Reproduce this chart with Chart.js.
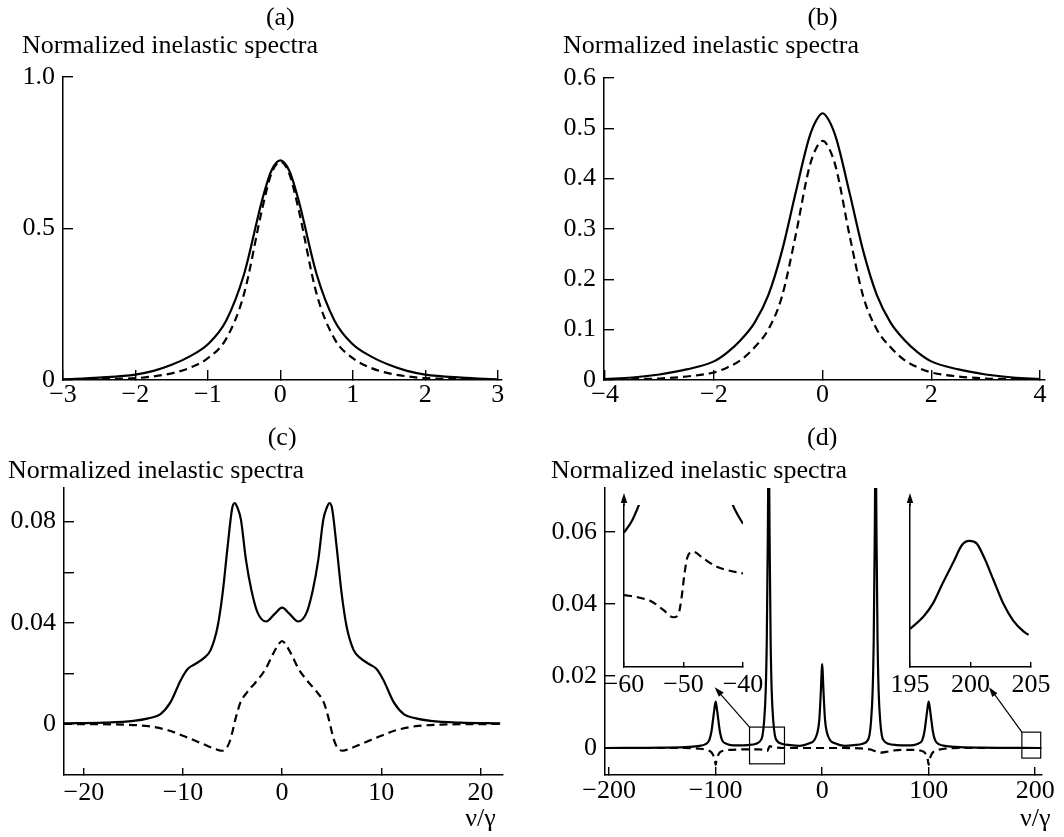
<!DOCTYPE html>
<html><head><meta charset="utf-8">
<script src="https://cdn.jsdelivr.net/npm/chart.js@4/dist/chart.umd.min.js"></script>
<style>
html,body{margin:0;padding:0;background:#fff;}
#wrap{position:relative;width:1064px;height:837px;overflow:hidden;background:#fff;}
#wrap canvas{position:absolute;left:0;top:0;}
</style></head><body>
<div id="wrap">
<canvas id="ca" width="1064" height="837"></canvas>
<canvas id="cb" width="1064" height="837"></canvas>
<canvas id="cc" width="1064" height="837"></canvas>
<canvas id="cd" width="1064" height="837"></canvas>
<canvas id="ce" width="1064" height="837"></canvas>
<canvas id="cf" width="1064" height="837"></canvas>
</div>
<script>
// ---------------- DATA ----------------
// Panel (a)
const aX      = [-3, -2.5, -2, -1.75, -1.5, -1.25, -1, -0.75, -0.5, -0.25, -0.125, 0, 0.125, 0.25, 0.5, 0.75, 1, 1.25, 1.5, 1.75, 2, 2.5, 3];
const aSolid  = [0.002, 0.008, 0.018, 0.03, 0.05, 0.078, 0.118, 0.195, 0.35, 0.595, 0.69, 0.725, 0.69, 0.595, 0.35, 0.195, 0.118, 0.078, 0.05, 0.03, 0.018, 0.008, 0.002];
const aDashed = [0.001, 0.003, 0.006, 0.012, 0.022, 0.04, 0.072, 0.135, 0.285, 0.565, 0.68, 0.72, 0.68, 0.565, 0.285, 0.135, 0.072, 0.04, 0.022, 0.012, 0.006, 0.003, 0.001];
const aXTicks = [-3, -2, -1, 0, 1, 2, 3];
const aXLabels = ['\u22123', '\u22122', '\u22121', '0', '1', '2', '3'];
const aYTicks = [0, 0.5, 1.0];
const aYLabels = ['0', '0.5', '1.0'];

// Panel (b)
const bX      = [-4, -3.5, -3, -2.5, -2, -1.75, -1.5, -1.25, -1, -0.75, -0.5, -0.25, -0.12, 0, 0.12, 0.25, 0.5, 0.75, 1, 1.25, 1.5, 1.75, 2, 2.5, 3, 3.5, 4];
const bSolid  = [0.002, 0.005, 0.011, 0.021, 0.037, 0.055, 0.08, 0.114, 0.168, 0.255, 0.37, 0.48, 0.515, 0.53, 0.515, 0.48, 0.37, 0.255, 0.168, 0.114, 0.08, 0.055, 0.037, 0.021, 0.011, 0.005, 0.002];
const bDashed = [0.001, 0.002, 0.003, 0.007, 0.015, 0.025, 0.04, 0.065, 0.1, 0.165, 0.285, 0.42, 0.46, 0.475, 0.46, 0.42, 0.285, 0.165, 0.1, 0.065, 0.04, 0.025, 0.015, 0.007, 0.003, 0.002, 0.001];
const bXTicks = [-4, -2, 0, 2, 4];
const bXLabels = ['\u22124', '\u22122', '0', '2', '4'];
const bYTicks = [0, 0.1, 0.2, 0.3, 0.4, 0.5, 0.6];
const bYLabels = ['0', '0.1', '0.2', '0.3', '0.4', '0.5', '0.6'];

// Panel (c)
const cSolidX = [-22, -18, -15, -13.5, -12.3, -11.3, -10.2, -9.5, -8.9, -7.9, -7.2, -6.5, -6.0, -5.5, -5.05, -4.8, -4.5, -4.15, -3.65, -3.1, -2.45, -1.6, -0.75, 0, 0.75, 1.6, 2.45, 3.1, 3.65, 4.15, 4.5, 4.8, 5.05, 5.5, 6.0, 6.5, 7.2, 7.9, 8.9, 9.5, 10.2, 11.3, 12.3, 13.5, 15, 18, 22];
const cSolidY = [0.0002, 0.0005, 0.0012, 0.0022, 0.0038, 0.0083, 0.0175, 0.0218, 0.0234, 0.026, 0.0293, 0.0386, 0.0517, 0.070, 0.085, 0.0873, 0.0855, 0.0807, 0.065, 0.053, 0.0438, 0.0405, 0.0435, 0.046, 0.0435, 0.0405, 0.0438, 0.053, 0.065, 0.0807, 0.0855, 0.0873, 0.085, 0.070, 0.0517, 0.0386, 0.0293, 0.026, 0.0234, 0.0218, 0.0175, 0.0083, 0.0038, 0.0022, 0.0012, 0.0005, 0.0002];
const cDashX  = [-22, -16, -13.5, -11.5, -9.8, -8, -6.9, -6.1, -5.6, -5.2, -4.7, -4.2, -3.5, -2.6, -1.7, -0.9, -0.3, 0, 0.3, 0.9, 1.7, 2.6, 3.5, 4.2, 4.7, 5.2, 5.6, 6.1, 6.9, 8, 9.8, 11.5, 13.5, 16, 22];
const cDashY  = [0, -0.0003, -0.0009, -0.0025, -0.005, -0.0079, -0.0097, -0.0106, -0.0095, -0.006, 0.002, 0.0085, 0.0127, 0.0168, 0.0215, 0.0278, 0.0318, 0.0328, 0.0318, 0.0278, 0.0215, 0.0168, 0.0127, 0.0085, 0.002, -0.006, -0.0095, -0.0106, -0.0097, -0.0079, -0.005, -0.0025, -0.0009, -0.0003, 0];
const cXTicks = [-20, -10, 0, 10, 20];
const cXLabels = ['\u221220', '\u221210', '0', '10', '20'];
const cYTicks = [0, 0.02, 0.04, 0.06, 0.08];
const cYLabels = ['0', '', '0.04', '', '0.08'];

// Panel (d)
const dSolidX = [-204, -150, -125, -115, -110, -106, -104, -102.5, -101.2, -100, -98.8, -97.5, -96, -94, -90, -80, -70, -62, -58, -56, -54.5, -53, -52, -51, -50.2, -49.4, -48.4, -47.4, -45.9, -44.4, -42.4, -38, -30, -21, -12, -7.4, -4.3, -2.7, -1.2, -0.5, 0, 0.5, 1.2, 2.7, 4.3, 7.4, 12, 21, 30, 38, 42.4, 44.4, 45.9, 47.4, 48.4, 49.4, 50.2, 51, 52, 53, 54.5, 56, 58, 62, 70, 80, 90, 94, 96, 97.5, 98.8, 100, 101.2, 102.5, 104, 106, 110, 115, 125, 150, 206];
const dSolidY = [0, 0.0001, 0.0003, 0.0006, 0.001, 0.0022, 0.0045, 0.0078, 0.0108, 0.0129, 0.0108, 0.0078, 0.0045, 0.0022, 0.0012, 0.0007, 0.0008, 0.0012, 0.002, 0.0035, 0.0075, 0.016, 0.03, 0.06, 0.09, 0.06, 0.03, 0.016, 0.0075, 0.0035, 0.002, 0.0012, 0.0008, 0.0006, 0.0013, 0.0022, 0.0045, 0.0078, 0.016, 0.021, 0.0233, 0.021, 0.016, 0.0078, 0.0045, 0.0022, 0.0013, 0.0006, 0.0008, 0.0012, 0.002, 0.0035, 0.0075, 0.016, 0.03, 0.06, 0.09, 0.06, 0.03, 0.016, 0.0075, 0.0035, 0.002, 0.0012, 0.0008, 0.0007, 0.0012, 0.0022, 0.0045, 0.0078, 0.0108, 0.0129, 0.0108, 0.0078, 0.0045, 0.0022, 0.001, 0.0006, 0.0003, 0.0001, 0];
const dDashX  = [-204, -130, -115, -108, -104, -102, -100.7, -100, -99.3, -98, -96, -92, -85, -70, -60, -55, -51.5, -50.3, -49.2, -47, -43, -35, -20, 0, 20, 35, 45, 50, 55, 60, 67, 75, 85, 92, 96, 98, 99.3, 100, 100.7, 102, 104, 108, 115, 130, 206];
const dDashY  = [0, 0, -0.0002, -0.0006, -0.0012, -0.0022, -0.0035, -0.0047, -0.0035, -0.0022, -0.0012, -0.0007, -0.0005, -0.0004, -0.0004, -0.0005, -0.0008, -0.0001, 0.0005, 0.0003, 0.0001, 0, 0, 0, 0, -0.0001, -0.0004, -0.0009, -0.0013, -0.0011, -0.0007, -0.0005, -0.0005, -0.0007, -0.0012, -0.0022, -0.0035, -0.0047, -0.0035, -0.0022, -0.0012, -0.0006, -0.0002, 0, 0];
const dXTicks = [-200, -100, 0, 100, 200];
const dXLabels = ['\u2212200', '\u2212100', '0', '100', '200'];
const dYTicks = [0, 0.02, 0.04, 0.06];
const dYLabels = ['0', '0.02', '0.04', '0.06'];
// zoom boxes in (d) data units: [xFrom, xTo, yFrom, yTo]; arrow tips [x, y]
const zoomBoxL = [-68.2, -35.4, -0.0044, 0.0058];
const zoomBoxR = [187.5, 205.2, -0.0028, 0.0044];
const tipL = [-100.9, 0.0169];
const tipR = [156.6, 0.0169];

// Inset left (zoom of -60..-40), arbitrary vertical units
const liSolidX = [-60, -58.7, -57.5, -56.9, -50, -42.2, -41.7, -40.9, -40];
const liSolidY = [0.83, 0.9, 1.0, 1.06, null, 1.06, 1.0, 0.94, 0.885];
const liDashX  = [-60, -57.6, -55.3, -53.4, -51.7, -50.9, -50.3, -49.9, -49.4, -48.4, -46.7, -44.4, -42.2, -40];
const liDashY  = [0.444, 0.43, 0.403, 0.352, 0.307, 0.321, 0.434, 0.557, 0.671, 0.712, 0.671, 0.619, 0.594, 0.578];
const liXTicks = [-60, -50, -40];
const liXLabels = ['\u221260', '\u221250', '\u221240'];

// Inset right (zoom of 195..205)
const riX = [195, 196.1, 196.9, 197.7, 198.6, 199.3, 199.9, 200.5, 201.1, 201.9, 202.7, 203.5, 204.4, 204.8];
const riY = [0.235, 0.31, 0.393, 0.517, 0.65, 0.753, 0.778, 0.763, 0.68, 0.537, 0.393, 0.29, 0.218, 0.198];
const riXTicks = [195, 200, 205];
const riXLabels = ['195', '200', '205'];

// ---------------- RENDER ----------------
const FAMILY = "'Liberation Serif', 'Times New Roman', serif";
const FSIZE = 26;
Chart.defaults.font.family = FAMILY;
Chart.defaults.font.size = FSIZE;
Chart.defaults.color = '#000';
const YW = 62, XH = 44;

function pts(xs, ys) { return xs.map((v, i) => ({ x: v, y: ys[i] })); }

function axisOpts(a, isX) {
  return {
    type: 'linear', min: a.min, max: a.max,
    afterFit: s => { if (isX) s.height = XH; else s.width = a.w || YW; },
    afterBuildTicks: s => { s.ticks = a.ticks.map(v => ({ value: v })); },
    ticks: {
      display: !!a.labels, autoSkip: false, maxRotation: 0, minRotation: 0,
      padding: a.pad || 0, color: '#000',
      callback: (v, i) => a.labels ? a.labels[i] : ''
    },
    grid: {
      display: a.tl > 0, drawOnChartArea: false, drawTicks: true,
      tickLength: -a.tl, color: '#000', lineWidth: 1.4, tickWidth: 1.4
    },
    border: { display: true, color: '#000', width: 1.5 }
  };
}

function makePanel(id, o) {
  const yw = o.y.w || YW;
  const datasets = o.series.map(s => ({
    data: pts(s.x, s.y), borderColor: '#000', backgroundColor: '#000',
    borderWidth: s.w || 2.2, borderDash: s.dash || [],
    pointRadius: 0, fill: false, cubicInterpolationMode: 'monotone',
    spanGaps: false, clip: 0
  }));
  return new Chart(document.getElementById(id), {
    type: 'line',
    data: { datasets },
    options: {
      responsive: false, animation: false, events: [],
      layout: { padding: { left: o.l - yw, top: o.t, right: 1064 - o.r, bottom: 837 - o.b - XH } },
      plugins: { legend: { display: false }, tooltip: { enabled: false }, title: { display: false } },
      scales: { x: axisOpts(o.x, true), y: axisOpts(o.y, false) }
    },
    plugins: o.plugins || []
  });
}

function textPlugin(items) {
  return {
    id: 'txt',
    afterDraw(chart) {
      const ctx = chart.ctx;
      ctx.save();
      ctx.fillStyle = '#000';
      ctx.font = FSIZE + 'px ' + FAMILY;
      ctx.textBaseline = 'alphabetic';
      for (const it of items) {
        ctx.textAlign = it.align || 'left';
        const x = typeof it.x === 'function' ? it.x(chart) : it.x;
        ctx.fillText(it.t, x, it.y);
      }
      ctx.restore();
    }
  };
}

function arrowHead(ctx, x0, y0, x1, y1, len, half) {
  const ang = Math.atan2(y1 - y0, x1 - x0);
  ctx.beginPath();
  ctx.moveTo(x1, y1);
  ctx.lineTo(x1 - len * Math.cos(ang) + half * Math.sin(ang), y1 - len * Math.sin(ang) - half * Math.cos(ang));
  ctx.lineTo(x1 - len * Math.cos(ang) - half * Math.sin(ang), y1 - len * Math.sin(ang) + half * Math.cos(ang));
  ctx.closePath();
  ctx.fill();
}

const insetArrow = {
  id: 'insetArrow',
  afterDraw(chart) {
    const { ctx, chartArea } = chart;
    const x = chartArea.left, y0 = chartArea.top, y1 = chartArea.top - 12;
    ctx.save();
    ctx.strokeStyle = '#000'; ctx.fillStyle = '#000'; ctx.lineWidth = 1.5;
    ctx.beginPath(); ctx.moveTo(x, y0 + 1); ctx.lineTo(x, y1 + 6); ctx.stroke();
    arrowHead(ctx, x, y0, x, y1, 10, 3.2);
    ctx.restore();
  }
};

const zoomMarks = {
  id: 'zoomMarks',
  afterDraw(chart) {
    const { ctx } = chart;
    const xs = chart.scales.x, ys = chart.scales.y;
    ctx.save();
    ctx.strokeStyle = '#000'; ctx.fillStyle = '#000'; ctx.lineWidth = 1.2;
    for (const [b, tip] of [[zoomBoxL, tipL], [zoomBoxR, tipR]]) {
      const x0 = xs.getPixelForValue(b[0]), x1 = xs.getPixelForValue(b[1]);
      const y0 = ys.getPixelForValue(b[2]), y1 = ys.getPixelForValue(b[3]);
      ctx.strokeRect(x0, y1, x1 - x0, y0 - y1);
      const tx = xs.getPixelForValue(tip[0]), ty = ys.getPixelForValue(tip[1]);
      ctx.beginPath(); ctx.moveTo(x0, y1); ctx.lineTo(tx + 4, ty + 5); ctx.stroke();
      arrowHead(ctx, x0, y1, tx, ty, 10, 3.2);
    }
    ctx.restore();
  }
};

const SOLID = 2.2, DASH = [8, 5];

// (a)
makePanel('ca', {
  l: 63, r: 502, t: 77, b: 380,
  x: { min: -3, max: 3.06, ticks: aXTicks, labels: aXLabels, tl: 10, pad: 10 },
  y: { min: 0, max: 1.0, ticks: aYTicks, labels: aYLabels, tl: 10, pad: 18 },
  series: [{ x: aX, y: aSolid, w: SOLID }, { x: aX, y: aDashed, w: SOLID, dash: DASH }],
  plugins: [textPlugin([
    { t: '(a)', x: c => c.scales.x.getPixelForValue(0), y: 25, align: 'center' },
    { t: 'Normalized inelastic spectra', x: 22, y: 53 }
  ])]
});

// (b)
makePanel('cb', {
  l: 604, r: 1045, t: 78, b: 380,
  x: { min: -4.02, max: 4.09, ticks: bXTicks, labels: bXLabels, tl: 10, pad: 10 },
  y: { min: 0, max: 0.6, ticks: bYTicks, labels: bYLabels, tl: 10, pad: 18 },
  series: [{ x: bX, y: bSolid, w: SOLID }, { x: bX, y: bDashed, w: SOLID, dash: DASH }],
  plugins: [textPlugin([
    { t: '(b)', x: c => c.scales.x.getPixelForValue(0), y: 25, align: 'center' },
    { t: 'Normalized inelastic spectra', x: 563, y: 53 }
  ])]
});

// (c)
makePanel('cc', {
  l: 64, r: 503, t: 488, b: 775,
  x: { min: -22, max: 22.28, ticks: cXTicks, labels: cXLabels, tl: 7, pad: 10 },
  y: { min: -0.0202, max: 0.0933, ticks: cYTicks, labels: cYLabels, tl: 10, pad: 18, w: 64 },
  series: [{ x: cSolidX, y: cSolidY, w: SOLID }, { x: cDashX, y: cDashY, w: SOLID, dash: DASH }],
  plugins: [textPlugin([
    { t: '(c)', x: c => c.scales.x.getPixelForValue(0), y: 445, align: 'center' },
    { t: 'Normalized inelastic spectra', x: 8, y: 478 },
    { t: '\u03bd/\u03b3', x: c => c.scales.x.getPixelForValue(20), y: 826, align: 'center' }
  ])]
});

// (d)
makePanel('cd', {
  l: 605, r: 1043, t: 488, b: 775,
  x: { min: -203.9, max: 206.2, ticks: dXTicks, labels: dXLabels, tl: 8, pad: 9 },
  y: { min: -0.0075, max: 0.0722, ticks: dYTicks, labels: dYLabels, tl: 10, pad: 18 },
  series: [{ x: dSolidX, y: dSolidY, w: SOLID }, { x: dDashX, y: dDashY, w: SOLID, dash: DASH }],
  plugins: [zoomMarks, textPlugin([
    { t: '(d)', x: c => c.scales.x.getPixelForValue(0), y: 445, align: 'center' },
    { t: 'Normalized inelastic spectra', x: 551, y: 478 },
    { t: '\u03bd/\u03b3', x: c => c.scales.x.getPixelForValue(200), y: 826, align: 'center' }
  ])]
});

// inset left
makePanel('ce', {
  l: 624, r: 743, t: 505, b: 667,
  x: { min: -60, max: -40, ticks: liXTicks, labels: liXLabels, tl: 5, pad: 8 },
  y: { min: 0, max: 1, ticks: [], labels: null, tl: 0, w: 20 },
  series: [{ x: liSolidX, y: liSolidY, w: SOLID }, { x: liDashX, y: liDashY, w: SOLID, dash: DASH }],
  plugins: [insetArrow]
});

// inset right
makePanel('cf', {
  l: 910, r: 1031, t: 505, b: 667,
  x: { min: 195, max: 205, ticks: riXTicks, labels: riXLabels, tl: 5, pad: 8 },
  y: { min: 0, max: 1, ticks: [], labels: null, tl: 0, w: 20 },
  series: [{ x: riX, y: riY, w: SOLID }],
  plugins: [insetArrow]
});
</script>
</body></html>
